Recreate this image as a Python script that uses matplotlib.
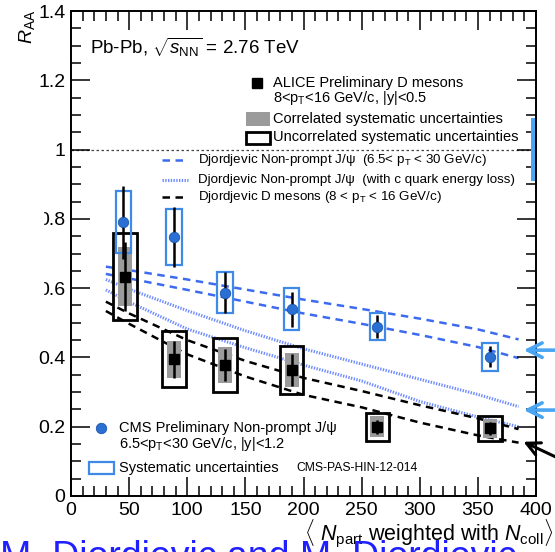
import matplotlib
matplotlib.use("Agg")
from matplotlib import pyplot as plt
from matplotlib.patches import Rectangle
from matplotlib.lines import Line2D
from matplotlib.ticker import MultipleLocator, FuncFormatter

plt.rcParams['font.family'] = ['Liberation Sans', 'DejaVu Sans']
plt.rcParams['mathtext.fontset'] = 'custom'
plt.rcParams['mathtext.rm'] = 'Liberation Sans'
plt.rcParams['mathtext.it'] = 'Liberation Sans:italic'
plt.rcParams['mathtext.bf'] = 'Liberation Sans:bold'

# CMS non-prompt J/psi, 6.5 < pT < 30 GeV/c
cms_npart = [45, 88.6, 132.5, 189.8, 263.5, 360.4]
cms_raa = [0.79, 0.748, 0.587, 0.539, 0.489, 0.402]
cms_stat = [0.105, 0.087, 0.06, 0.05, 0.033, 0.03]
cms_syst = [0.089, 0.08, 0.06, 0.06, 0.04, 0.041]

# ALICE preliminary D mesons, 8 < pT < 16 GeV/c
alice_npart = [46.5, 88.6, 132.5, 189.8, 263.5, 360.4]
alice_raa = [0.633, 0.395, 0.378, 0.364, 0.200, 0.195]
alice_stat = [0.10, 0.053, 0.045, 0.046, 0.02, 0.02]
alice_corr = [0.085, 0.053, 0.052, 0.048, 0.03, 0.028]
alice_uncorr = [0.125, 0.08, 0.078, 0.07, 0.04, 0.035]

# Djordjevic predictions (upper / lower edge of each band)
model_npart = [30, 50, 100, 150, 200, 250, 300, 350, 385]
jpsi_hi = [0.662, 0.652, 0.625, 0.596, 0.567, 0.540, 0.512, 0.481, 0.452]
jpsi_lo = [0.641, 0.628, 0.595, 0.561, 0.527, 0.497, 0.465, 0.430, 0.398]
jpsi_closs_hi = [0.625, 0.597, 0.535, 0.477, 0.425, 0.381, 0.337, 0.293, 0.258]
jpsi_closs_lo = [0.595, 0.560, 0.482, 0.428, 0.378, 0.332, 0.273, 0.228, 0.200]
dmeson_hi = [0.561, 0.527, 0.450, 0.390, 0.341, 0.303, 0.262, 0.224, 0.193]
dmeson_lo = [0.534, 0.497, 0.409, 0.345, 0.292, 0.256, 0.212, 0.175, 0.154]

# global normalisation uncertainty around unity
norm_lo, norm_hi = 0.91, 1.09

y_ticks = [0, 0.2, 0.4, 0.6, 0.8, 1, 1.2, 1.4]
x_ticks = [0, 50, 100, 150, 200, 250, 300, 350, 400]

cms_blue = '#2a6fd4'
box_blue = '#3f8ae6'
dash_blue = '#3d6bf0'
dot_blue = '#6f8cff'
arrow_blue = '#4aa6f2'

fig = plt.figure(figsize=(5.55, 5.52), dpi=100)
ax = fig.add_axes([71 / 555, 1 - 496 / 552, 465 / 555, 485 / 552])

# model bands
dash = (0, (3, 2.2))
for ys in (jpsi_hi, jpsi_lo):
    ax.plot(model_npart, ys, color=dash_blue, lw=1.8, ls=dash, zorder=1)
for ys in (jpsi_closs_hi, jpsi_closs_lo):
    ax.plot(model_npart, ys, color=dot_blue, lw=2.2, ls=(0, (0.45, 0.45)), zorder=1)
for ys in (dmeson_hi, dmeson_lo):
    ax.plot(model_npart, ys, color='black', lw=1.8, ls=dash, zorder=1)

ax.axhline(1, color='#444444', lw=0.9, ls=(0, (2, 2)), zorder=1)
ax.add_patch(Rectangle((395.7, norm_lo), 4.3, norm_hi - norm_lo, color=arrow_blue, lw=0, zorder=2))

# ALICE boxes: correlated (filled) and uncorrelated (open)
for x, y, c, u in zip(alice_npart, alice_raa, alice_corr, alice_uncorr):
    ax.add_patch(Rectangle((x - 6, y - c), 12, 2 * c, color='#9b9b9b', lw=0, zorder=2))
    ax.add_patch(Rectangle((x - 10, y - u), 20, 2 * u, fill=False, ec='black', lw=2.0, zorder=3))
ax.errorbar(alice_npart, alice_raa, yerr=alice_stat, fmt='s', color='black', ms=6.5,
            elinewidth=1.8, capsize=0, zorder=4)

# CMS points with systematic boxes
for x, y, s in zip(cms_npart, cms_raa, cms_syst):
    ax.add_patch(Rectangle((x - 6.5, y - s), 13, 2 * s, fill=False, ec=box_blue, lw=1.6, zorder=3))
ax.errorbar(cms_npart, cms_raa, yerr=cms_stat, fmt='none', ecolor='black', elinewidth=1.8,
            capsize=0, zorder=4)
ax.plot(cms_npart, cms_raa, 'o', color=cms_blue, mec='#1d55a8', mew=0.6, ms=7.5, zorder=5)

ax.set_xlim(0, 400)
ax.set_ylim(0, 1.4)
ax.set_xticks(x_ticks)
ax.set_yticks(y_ticks)
ax.xaxis.set_minor_locator(MultipleLocator(10))
ax.yaxis.set_minor_locator(MultipleLocator(0.05))
ax.yaxis.set_major_formatter(FuncFormatter(lambda v, p: f"{v:g}"))
ax.tick_params(which='both', direction='in', top=True, right=True, width=1.1, labelsize=14)
ax.tick_params(which='major', length=14, pad=4)
ax.tick_params(which='minor', length=7)
for sp in ax.spines.values():
    sp.set_linewidth(1.4)

# legend, ALICE block
fs = 10.5
ax.plot([160], [1.192], 's', color='black', ms=6.5, clip_on=False)
ax.text(173.8, 1.192, "ALICE Preliminary D mesons", fontsize=fs, va='center')
ax.text(173.8, 1.149, r"8<p$_{\rm T}$<16 GeV/c, |y|<0.5", fontsize=fs, va='center')
ax.add_patch(Rectangle((150.3, 1.068), 20.9, 0.041, color='#9b9b9b', lw=0))
ax.text(173.8, 1.088, "Correlated systematic uncertainties", fontsize=fs, va='center')
ax.add_patch(Rectangle((150.3, 1.016), 20.9, 0.036, fill=False, ec='black', lw=2.0))
ax.text(173.8, 1.036, "Uncorrelated systematic uncertainties", fontsize=fs, va='center')

# legend, models
fm = 9.6
ax.add_line(Line2D([78.3, 100.6], [0.970, 0.970], color=dash_blue, lw=1.8, ls=dash))
ax.text(109.2, 0.970, r"Djordjevic Non-prompt J/ψ  (6.5< p$_{\rm T}$ < 30 GeV/c)", fontsize=fm, va='center')
ax.add_line(Line2D([78.3, 100.6], [0.912, 0.912], color=dot_blue, lw=2.2, ls=(0, (0.45, 0.45))))
ax.text(109.2, 0.912, "Djordjevic Non-prompt J/ψ  (with c quark energy loss)", fontsize=fm, va='center')
ax.add_line(Line2D([78.3, 100.6], [0.863, 0.863], color='black', lw=1.8, ls=dash))
ax.text(109.2, 0.863, r"Djordjevic D mesons (8 < p$_{\rm T}$ < 16 GeV/c)", fontsize=fm, va='center')

# legend, CMS block
ax.plot([25.5], [0.195], 'o', color=cms_blue, mec='#1d55a8', mew=0.6, ms=7.5)
ax.text(41.5, 0.195, "CMS Preliminary Non-prompt J/ψ", fontsize=fs, va='center')
ax.text(41.5, 0.149, r"6.5<p$_{\rm T}$<30 GeV/c, |y|<1.2", fontsize=fs, va='center')
ax.add_patch(Rectangle((15.7, 0.0635), 21.3, 0.0355, fill=False, ec=box_blue, lw=1.6))
ax.text(41.5, 0.0817, "Systematic uncertainties", fontsize=fs, va='center')
ax.text(194.2, 0.0817, "CMS-PAS-HIN-12-014", fontsize=8.7, va='center')

ax.text(16.3, 1.296, r"Pb-Pb, $\sqrt{s_{\rm NN}}$ = 2.76 TeV", fontsize=13.5, va='center')

# arrows pointing at the model curves
for yv in (0.421, 0.248):
    ax.annotate('', xy=(387, yv), xytext=(430, yv), annotation_clip=False,
                arrowprops=dict(arrowstyle='->', color=arrow_blue, lw=2.6, mutation_scale=26))
ax.annotate('', xy=(387, 0.16), xytext=(425, 0.10), annotation_clip=False,
            arrowprops=dict(arrowstyle='->', color='black', lw=2.2, mutation_scale=24))

fig.text(553 / 555, 1 - 533 / 552, r"$\langle$ $N_{\rm part}$ weighted with $N_{\rm coll}\rangle$",
         fontsize=15.5, ha='right', va='center')
fig.text(27 / 555, 1 - 27 / 552, r"$R_{\rm AA}$", fontsize=14, rotation=90, ha='center', va='center')

# speaker names running off the bottom of the slide
fig.text(0.0, 1 - 568 / 552, "M. Djordjevic and M. Djordjevic", fontsize=27, color='#1f1fff',
         ha='left', va='baseline')

# white strip hiding the leading zeros of two labels
fig.patches.append(Rectangle((0, 1 - 320 / 552), 43 / 555, 130 / 552, transform=fig.transFigure,
                             color='white', zorder=10))

fig.savefig("out.png", dpi=100)
